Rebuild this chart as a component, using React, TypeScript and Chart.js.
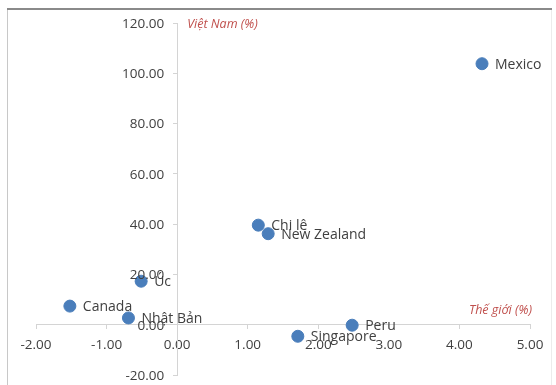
import React, { useEffect, useRef } from "react";
import { Chart, registerables } from "chart.js";

Chart.register(...registerables);

// Growth comparison: world (x, %) vs Viet Nam (y, %)
const countries = ["Mexico", "Chi lê", "New Zealand", "Úc", "Canada", "Nhật Bản", "Singapore", "Peru"];
const worldPct = [4.32, 1.15, 1.29, -0.51, -1.52, -0.69, 1.71, 2.48];
const vietnamPct = [103.8, 39.6, 36.2, 17.3, 7.4, 2.7, -4.6, -0.2];

const xTicks = { min: -2, max: 5, step: 1 };
const yTicks = { min: -20, max: 120, step: 20 };

const xTitle = "Thế giới (%)";
const yTitle = "Việt Nam (%)";

const FONT = "'Open Sans', 'Noto Sans', sans-serif";
const TEXT = "#404040";
const AXIS = "#d4d4d4";
const POINT = "#4a7ebb";
const TITLE = "#c0504d";

const fmt = (v: number) => Number(v).toFixed(2);

const decorations = {
  id: "decorations",
  beforeDraw(chart: any) {
    const { ctx, width, height } = chart;
    ctx.save();
    ctx.fillStyle = "#ffffff";
    ctx.fillRect(0, 0, width, height);
    // frame
    ctx.strokeStyle = "#c8c8c8";
    ctx.lineWidth = 1;
    ctx.beginPath();
    ctx.moveTo(7.5, 8);
    ctx.lineTo(7.5, height);
    ctx.stroke();
    ctx.strokeStyle = "#ececec";
    ctx.beginPath();
    ctx.moveTo(551.5, 8);
    ctx.lineTo(551.5, height);
    ctx.stroke();
    ctx.strokeStyle = "#8a8a8a";
    ctx.lineWidth = 2;
    ctx.beginPath();
    ctx.moveTo(7, 9);
    ctx.lineTo(552, 9);
    ctx.stroke();
    ctx.restore();
  },
  afterDatasetsDraw(chart: any) {
    const { ctx } = chart;
    const xs = chart.scales.x;
    const ys = chart.scales.y;
    const axisX = xs.getPixelForValue(0);
    ctx.save();
    // y tick labels, right-aligned left of the centred axis
    ctx.font = `13.5px ${FONT}`;
    ctx.fillStyle = TEXT;
    ctx.textAlign = "right";
    ctx.textBaseline = "middle";
    ys.ticks.forEach((t: any) => {
      ctx.fillText(fmt(t.value), axisX - 13, ys.getPixelForValue(t.value) + 1);
    });
    // axis titles
    ctx.font = `italic 12.5px ${FONT}`;
    ctx.fillStyle = TITLE;
    ctx.textAlign = "left";
    ctx.fillText(yTitle, axisX + 10, ys.getPixelForValue(120) + 1);
    ctx.textAlign = "right";
    ctx.fillText(xTitle, xs.getPixelForValue(5) + 2, ys.getPixelForValue(0) - 14);
    // point labels
    ctx.font = `14px ${FONT}`;
    ctx.fillStyle = TEXT;
    ctx.textAlign = "left";
    const meta = chart.getDatasetMeta(0);
    meta.data.forEach((pt: any, i: number) => {
      ctx.fillText(countries[i], pt.x + 13, pt.y + 1);
    });
    ctx.restore();
  },
};

export default function App() {
  const ref = useRef<HTMLCanvasElement>(null);
  useEffect(() => {
    document.body.style.margin = "0";
    const chart = new Chart(ref.current!, {
      type: "scatter",
      data: {
        datasets: [
          {
            data: worldPct.map((x, i) => ({ x, y: vietnamPct[i] })),
            backgroundColor: POINT,
            borderColor: POINT,
            pointRadius: 6,
            pointHoverRadius: 6,
          },
        ],
      },
      options: {
        responsive: false,
        animation: false,
        layout: { padding: { left: 36, right: 26, top: 23, bottom: 10 } },
        plugins: { legend: { display: false }, tooltip: { enabled: false } },
        scales: {
          x: {
            type: "linear",
            position: { y: 0 },
            min: xTicks.min,
            max: xTicks.max,
            afterFit: (s: any) => {
              s.height = 0;
            },
            border: { display: true, color: AXIS },
            grid: { drawOnChartArea: false, drawTicks: true, tickLength: 4, color: AXIS },
            ticks: {
              stepSize: xTicks.step,
              padding: 8,
              color: TEXT,
              font: { family: FONT, size: 13.5 },
              callback: (v: any) => fmt(v),
            },
          },
          y: {
            type: "linear",
            position: { x: 0 },
            min: yTicks.min,
            max: yTicks.max,
            afterFit: (s: any) => {
              s.width = 0;
            },
            border: { display: true, color: AXIS },
            grid: { drawOnChartArea: false, drawTicks: true, tickLength: 4, color: AXIS },
            ticks: {
              stepSize: yTicks.step,
              display: false,
            },
          },
        },
      },
      plugins: [decorations],
    });
    return () => chart.destroy();
  }, []);
  return <canvas ref={ref} width={556} height={385} style={{ display: "block" }} />;
}
